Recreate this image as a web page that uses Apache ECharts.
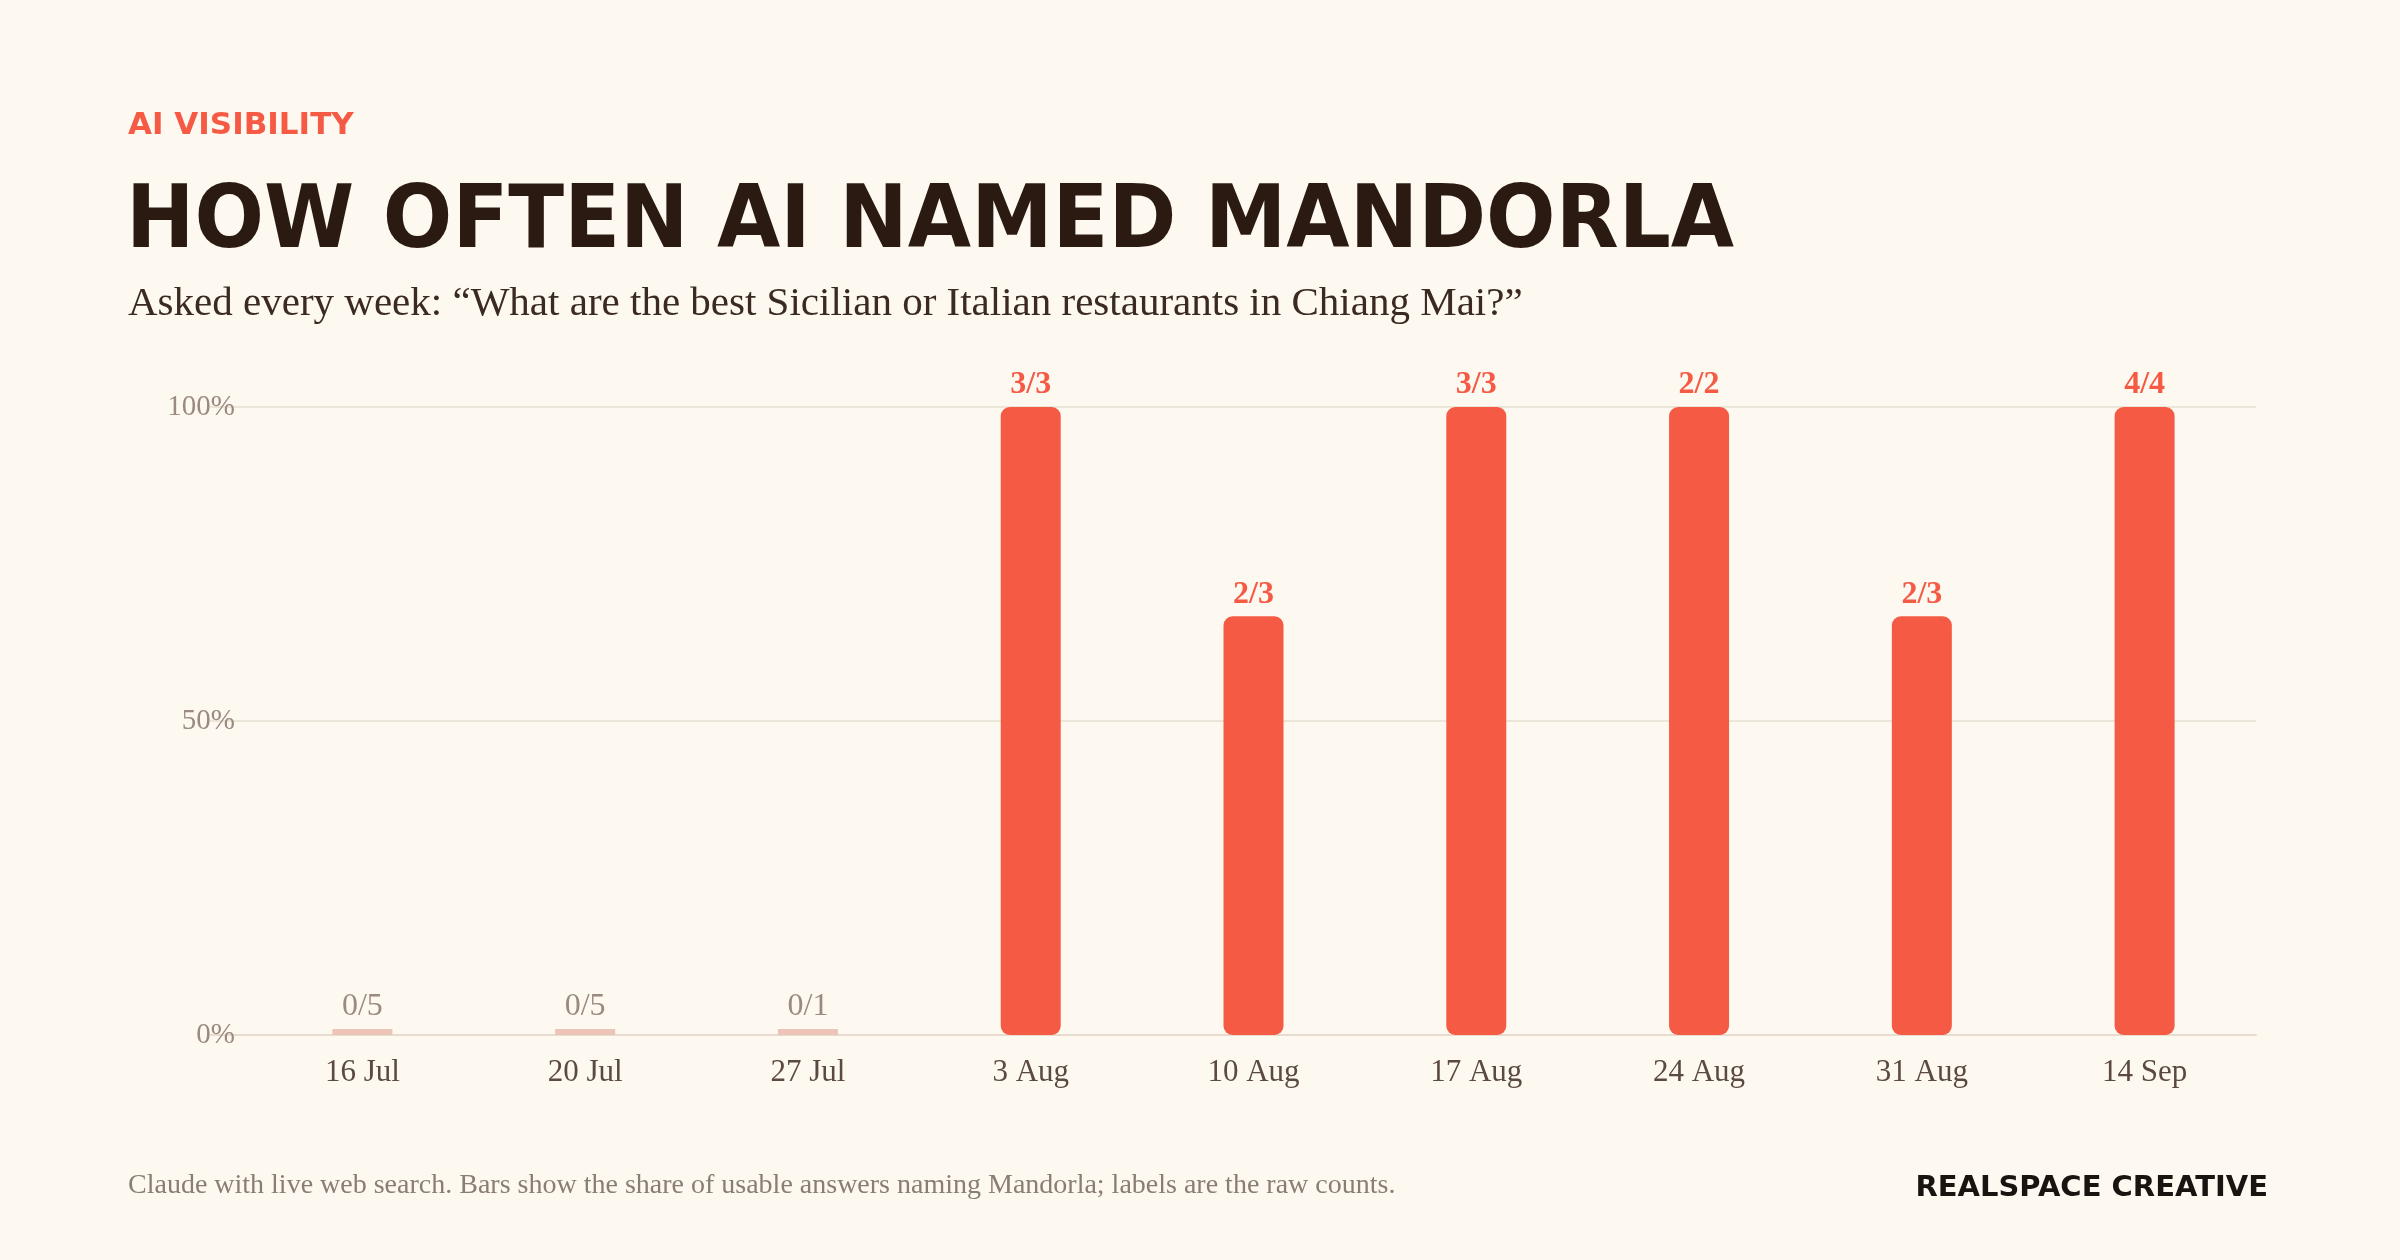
<!DOCTYPE html>
<html><head><meta charset="utf-8">
<script src="https://cdn.jsdelivr.net/npm/echarts@6/dist/echarts.min.js"></script>
<style>html,body{margin:0;padding:0;background:#fdf9f1;}#c{width:2400px;height:1260px;}</style>
</head><body><div id="c"></div>
<script>
const categories = ['16 Jul','20 Jul','27 Jul','3 Aug','10 Aug','17 Aug','24 Aug','31 Aug','14 Sep'];
const named = [0,0,0,3,2,3,2,2,4];
const asked = [5,5,1,3,3,3,2,3,4];
const yTicks = [0,50,100];

const RED = '#f55a45', SERIF = '"Liberation Serif", "DejaVu Serif", serif';
const data = named.map((n,i)=>{
  const v = n/asked[i]*100;
  return {
    value: v,
    itemStyle: {color: n===0 ? '#ecc4b8' : RED, borderRadius: n===0 ? 0 : [9,9,9,9]},
    label: {color: n===0 ? '#9a8a80' : RED, fontWeight: n===0 ? 'normal' : 'bold', formatter: n+'/'+asked[i]}
  };
});
const chart = echarts.init(document.getElementById('c'));
chart.setOption({
  backgroundColor: '#fdf9f1',
  animation: false,
  grid: {left: 251, right: 144, top: 407, bottom: 225},
  xAxis: {type:'category', data: categories,
    axisLine:{lineStyle:{color:'#e8dccf', width:2}}, axisTick:{show:false},
    axisLabel:{color:'#5a4a40', fontFamily:SERIF, fontSize:31, margin:22}},
  yAxis: {type:'value', min:0, max:100, interval:50,
    axisLine:{show:false}, axisTick:{show:false},
    splitLine:{lineStyle:{color:'#e6dfcf', width:1.5}},
    axisLabel:{color:'#9a8a80', fontFamily:SERIF, fontSize:29, margin:16,
      formatter: v => yTicks.includes(v) ? v+'%' : ''}},
  series: [{type:'bar', data: data, barWidth: 60, barMinHeight: 6,
    label:{show:true, position:'top', distance:6, fontFamily:SERIF, fontSize:32}}],
  graphic: [
    {type:'line', shape:{x1:210,y1:407,x2:251,y2:407}, style:{stroke:'#e6dfcf', lineWidth:1.5}},
    {type:'line', shape:{x1:210,y1:721,x2:251,y2:721}, style:{stroke:'#e6dfcf', lineWidth:1.5}},
    {type:'line', shape:{x1:210,y1:1035,x2:251,y2:1035}, style:{stroke:'#e8dccf', lineWidth:2}},
    {type:'text', left:128, top:110, style:{text:'AI VISIBILITY', fill:RED, font:'bold 31px "DejaVu Sans"', letterSpacing:6}},
    {type:'text', x:126, y:180, scaleX:0.93, style:{text:'HOW OFTEN AI NAMED MANDORLA', fill:'#2a1a12', font:'bold 88px "DejaVu Sans"'}},
    {type:'text', left:128, top:284, style:{text:'Asked every week: \u201cWhat are the best Sicilian or Italian restaurants in Chiang Mai?\u201d', fill:'#3a2a22', font:'41px '+SERIF}},
    {type:'text', left:128, top:1172, style:{text:'Claude with live web search. Bars show the share of usable answers naming Mandorla; labels are the raw counts.', fill:'#8a7d72', font:'28px '+SERIF}},
    {type:'text', right:132, top:1174, style:{text:'REALSPACE CREATIVE', fill:'#1a1410', font:'bold 29px "DejaVu Sans"', letterSpacing:2}}
  ]
});
</script></body></html>
